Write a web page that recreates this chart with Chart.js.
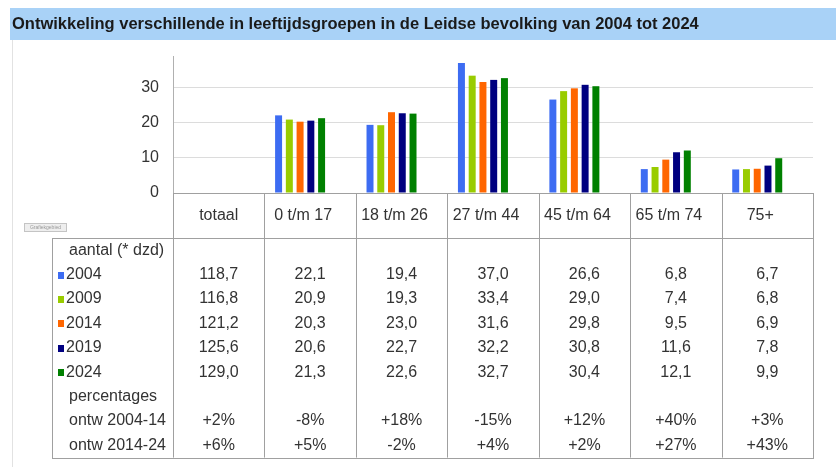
<!DOCTYPE html>
<html>
<head>
<meta charset="utf-8">
<script src="https://cdn.jsdelivr.net/npm/chart.js@4.4.1/dist/chart.umd.min.js"></script>
<style>
  html, body { margin: 0; padding: 0; background: #fff; }
  #wrap { position: relative; width: 836px; height: 467px; }
</style>
</head>
<body>
<div id="wrap"><canvas id="chart"></canvas></div>
<script>
const title = 'Ontwikkeling verschillende in leeftijdsgroepen in de Leidse bevolking van 2004 tot 2024';
const categories = ['totaal', '0 t/m 17', '18 t/m 26', '27 t/m 44', '45 t/m 64', '65 t/m 74', '75+'];
const years = ['2004', '2009', '2014', '2019', '2024'];
const colors = ['#3d6cf2', '#99cc00', '#ff6600', '#000080', '#008000'];

// aantal (* dzd) -- first value is the total, the rest are the age groups
const values2004 = [118.7, 22.1, 19.4, 37.0, 26.6, 6.8, 6.7];
const values2009 = [116.8, 20.9, 19.3, 33.4, 29.0, 7.4, 6.8];
const values2014 = [121.2, 20.3, 23.0, 31.6, 29.8, 9.5, 6.9];
const values2019 = [125.6, 20.6, 22.7, 32.2, 30.8, 11.6, 7.8];
const values2024 = [129.0, 21.3, 22.6, 32.7, 30.4, 12.1, 9.9];

// percentages
const ontw2004_14 = [2, -8, 18, -15, 12, 40, 3];
const ontw2014_24 = [6, 5, -2, 4, 2, 27, 43];

const yTickLabels = [0, 10, 20, 30];

const series = [values2004, values2009, values2014, values2019, values2024];
const FONT = "'Liberation Sans', Arial, sans-serif";
const TEXT = '#333';

Chart.defaults.font.family = FONT;
Chart.defaults.font.size = 16;
Chart.defaults.color = TEXT;

const fmt = v => v.toFixed(1).replace('.', ',');
const pct = v => (v > 0 ? '+' : '') + v + '%';

// Title band, frame line and the little "Grafiekgebied" tag
const backgroundPlugin = {
    id: 'background',
    beforeDraw(chart) {
        const ctx = chart.ctx;
        ctx.save();
        ctx.fillStyle = '#a9d2f7';
        ctx.fillRect(10, 8, chart.width - 10, 32);
        ctx.fillStyle = '#1a1a1a';
        ctx.font = 'bold 16.5px ' + FONT;
        ctx.textBaseline = 'middle';
        ctx.fillText(title, 12, 24);

        ctx.strokeStyle = '#e2e2e2';
        ctx.lineWidth = 1;
        ctx.beginPath();
        ctx.moveTo(12.5, 40);
        ctx.lineTo(12.5, chart.height);
        ctx.stroke();

        ctx.fillStyle = '#eeeeee';
        ctx.strokeStyle = '#c4c4c4';
        ctx.fillRect(24.5, 223.5, 42, 8);
        ctx.strokeRect(24.5, 223.5, 42, 8);
        ctx.fillStyle = '#999';
        ctx.font = '5px ' + FONT;
        ctx.textAlign = 'center';
        ctx.fillText('Grafiekgebied', 45.5, 227.5);
        ctx.restore();
    }
};

// Data table under the x axis, one column per category
const tablePlugin = {
    id: 'table',
    afterDraw(chart) {
        const {ctx, chartArea: {left, right, bottom}} = chart;
        const colW = (right - left) / categories.length;
        const headH = 45;
        const rowH = 24.4;
        const labelLeft = 52;
        const top = bottom + headH;
        const rows = 9;
        const tableBottom = top + rows * rowH;
        const px = v => Math.round(v) + 0.5;

        ctx.save();
        ctx.strokeStyle = '#a0a0a0';
        ctx.lineWidth = 1;

        // header row
        ctx.strokeRect(px(left), px(bottom), Math.round(right - left), Math.round(headH));
        // body
        ctx.strokeRect(px(labelLeft), px(top), Math.round(right - labelLeft), Math.round(tableBottom - top));
        ctx.beginPath();
        for (let i = 0; i < categories.length; i++) {
            const x = px(left + i * colW);
            ctx.moveTo(x, bottom);
            ctx.lineTo(x, tableBottom);
        }
        ctx.stroke();

        ctx.fillStyle = TEXT;
        ctx.font = '16px ' + FONT;
        ctx.textBaseline = 'middle';

        // category labels
        ctx.textAlign = 'center';
        categories.forEach((c, i) => {
            const cx = left + (i + 0.5) * colW - (i ? 7 : 0);
            ctx.fillText(c, cx, bottom + headH / 2);
        });

        const rowY = r => top + (r + 0.5) * rowH;

        // row labels
        ctx.textAlign = 'left';
        ctx.fillText('aantal (* dzd)', 69, rowY(0));
        years.forEach((y, k) => {
            ctx.fillStyle = colors[k];
            ctx.fillRect(58, Math.round(rowY(k + 1)) - 3, 6, 7);
            ctx.fillStyle = TEXT;
            ctx.fillText(y, 66, rowY(k + 1));
        });
        ctx.fillText('percentages', 69, rowY(6));
        ctx.fillText('ontw 2004-14', 69, rowY(7));
        ctx.fillText('ontw 2014-24', 69, rowY(8));

        // values
        ctx.textAlign = 'center';
        categories.forEach((c, i) => {
            const cx = left + (i + 0.5) * colW;
            series.forEach((vals, k) => ctx.fillText(fmt(vals[i]), cx, rowY(k + 1)));
            ctx.fillText(pct(ontw2004_14[i]), cx, rowY(7));
            ctx.fillText(pct(ontw2014_24[i]), cx, rowY(8));
        });
        ctx.restore();
    }
};

const datasets = series.map((vals, k) => ({
    label: years[k],
    // the total is only shown in the table, bars start at the first age group
    data: vals.slice(1).map((v, i) => ({x: i + 1, y: v})),
    backgroundColor: colors[k],
    borderWidth: 0,
    barPercentage: 0.65,
    categoryPercentage: 0.588
}));

new Chart(document.getElementById('chart'), {
    type: 'bar',
    data: { datasets },
    options: {
        responsive: true,
        maintainAspectRatio: false,
        animation: false,
        layout: { padding: { top: 56, right: 23, bottom: 274, left: 0 } },
        plugins: {
            legend: { display: false },
            tooltip: { enabled: false }
        },
        scales: {
            x: {
                type: 'linear',
                display: false,
                offset: false,
                grid: { offset: false },
                min: -0.39,
                max: 6.61,
                ticks: { stepSize: 1, includeBounds: false }
            },
            y: {
                min: 0,
                max: 39,
                afterFit: scale => { scale.width = 173; },
                border: { color: '#b0b0b0' },
                grid: { color: '#dcdcdc', drawTicks: false },
                ticks: {
                    stepSize: 5,
                    includeBounds: false,
                    padding: 14,
                    color: TEXT,
                    font: { size: 16 },
                    callback: v => yTickLabels.includes(v) ? v : ''
                }
            }
        }
    },
    plugins: [backgroundPlugin, tablePlugin]
});
</script>
</body>
</html>
